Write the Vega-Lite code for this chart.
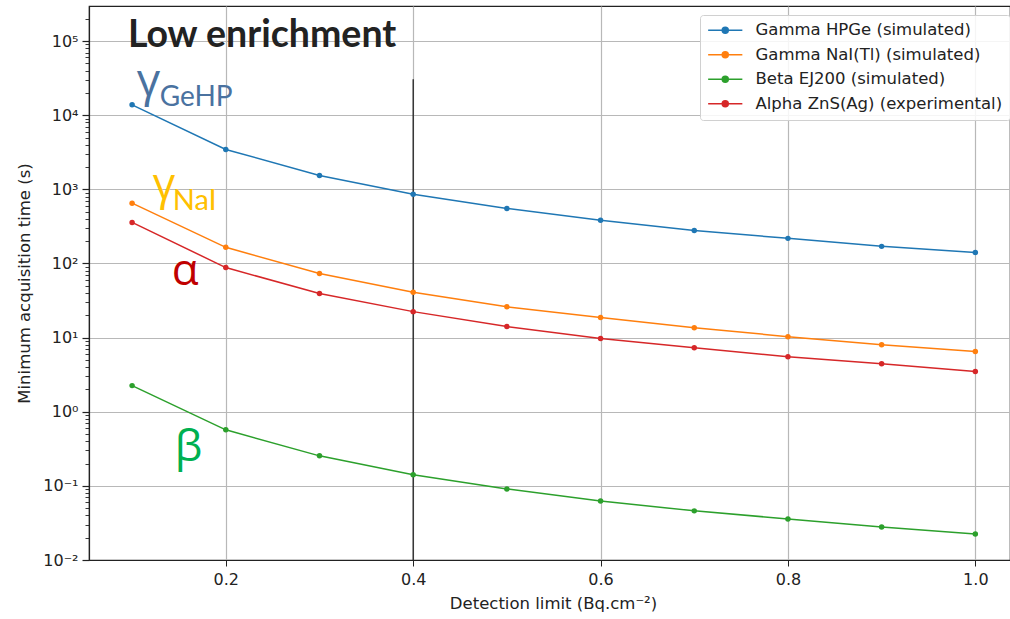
{
  "$schema": "https://vega.github.io/schema/vega-lite/v6.json",
  "width": 921,
  "height": 554,
  "autosize": "none",
  "padding": {"left": 89, "top": 6, "right": 0, "bottom": 59},
  "background": "white",
  "config": {
    "view": {"stroke": "#222", "strokeWidth": 1.2},
    "axis": {"labelFont": "DejaVu Sans", "titleFont": "DejaVu Sans", "labelColor": "#222", "titleColor": "#222", "labelFontSize": 16, "titleFontSize": 16.5, "titleFontWeight": "normal", "domainColor": "#222", "tickColor": "#222", "domainWidth": 1.2, "gridColor": "#b8b8b8", "gridWidth": 1.2}
  },
  "datasets": {
    "series": [
      {"x": 0.1, "y": 13800, "series": "Gamma HPGe (simulated)"},
      {"x": 0.2, "y": 3450, "series": "Gamma HPGe (simulated)"},
      {"x": 0.3, "y": 1540, "series": "Gamma HPGe (simulated)"},
      {"x": 0.4, "y": 860, "series": "Gamma HPGe (simulated)"},
      {"x": 0.5, "y": 553, "series": "Gamma HPGe (simulated)"},
      {"x": 0.6, "y": 382, "series": "Gamma HPGe (simulated)"},
      {"x": 0.7, "y": 279, "series": "Gamma HPGe (simulated)"},
      {"x": 0.8, "y": 218, "series": "Gamma HPGe (simulated)"},
      {"x": 0.9, "y": 170, "series": "Gamma HPGe (simulated)"},
      {"x": 1.0, "y": 141, "series": "Gamma HPGe (simulated)"},
      {"x": 0.1, "y": 650, "series": "Gamma NaI(Tl) (simulated)"},
      {"x": 0.2, "y": 165, "series": "Gamma NaI(Tl) (simulated)"},
      {"x": 0.3, "y": 73, "series": "Gamma NaI(Tl) (simulated)"},
      {"x": 0.4, "y": 41, "series": "Gamma NaI(Tl) (simulated)"},
      {"x": 0.5, "y": 26, "series": "Gamma NaI(Tl) (simulated)"},
      {"x": 0.6, "y": 18.6, "series": "Gamma NaI(Tl) (simulated)"},
      {"x": 0.7, "y": 13.6, "series": "Gamma NaI(Tl) (simulated)"},
      {"x": 0.8, "y": 10.3, "series": "Gamma NaI(Tl) (simulated)"},
      {"x": 0.9, "y": 8.0, "series": "Gamma NaI(Tl) (simulated)"},
      {"x": 1.0, "y": 6.5, "series": "Gamma NaI(Tl) (simulated)"},
      {"x": 0.1, "y": 2.25, "series": "Beta EJ200 (simulated)"},
      {"x": 0.2, "y": 0.57, "series": "Beta EJ200 (simulated)"},
      {"x": 0.3, "y": 0.254, "series": "Beta EJ200 (simulated)"},
      {"x": 0.4, "y": 0.141, "series": "Beta EJ200 (simulated)"},
      {"x": 0.5, "y": 0.091, "series": "Beta EJ200 (simulated)"},
      {"x": 0.6, "y": 0.0626, "series": "Beta EJ200 (simulated)"},
      {"x": 0.7, "y": 0.046, "series": "Beta EJ200 (simulated)"},
      {"x": 0.8, "y": 0.0358, "series": "Beta EJ200 (simulated)"},
      {"x": 0.9, "y": 0.0279, "series": "Beta EJ200 (simulated)"},
      {"x": 1.0, "y": 0.0224, "series": "Beta EJ200 (simulated)"},
      {"x": 0.1, "y": 358, "series": "Alpha ZnS(Ag) (experimental)"},
      {"x": 0.2, "y": 88, "series": "Alpha ZnS(Ag) (experimental)"},
      {"x": 0.3, "y": 39.4, "series": "Alpha ZnS(Ag) (experimental)"},
      {"x": 0.4, "y": 22.4, "series": "Alpha ZnS(Ag) (experimental)"},
      {"x": 0.5, "y": 14.1, "series": "Alpha ZnS(Ag) (experimental)"},
      {"x": 0.6, "y": 9.7, "series": "Alpha ZnS(Ag) (experimental)"},
      {"x": 0.7, "y": 7.3, "series": "Alpha ZnS(Ag) (experimental)"},
      {"x": 0.8, "y": 5.5, "series": "Alpha ZnS(Ag) (experimental)"},
      {"x": 0.9, "y": 4.45, "series": "Alpha ZnS(Ag) (experimental)"},
      {"x": 1.0, "y": 3.5, "series": "Alpha ZnS(Ag) (experimental)"}
    ],
    "marker": [{"x": 0.4, "y": 0.01, "y2": 30600}],
    "notes": [
      {"label": "title", "text": "Low enrichment", "x": 0.0955, "y": 83000},
      {"label": "g1", "text": "γ", "x": 0.105, "y": 18100},
      {"label": "g1sub", "text": "GeHP", "x": 0.1296, "y": 13200},
      {"label": "g2", "text": "γ", "x": 0.1221, "y": 733},
      {"label": "g2sub", "text": "NaI", "x": 0.1434, "y": 520},
      {"label": "alpha", "text": "α", "x": 0.1424, "y": 52},
      {"label": "beta", "text": "β", "x": 0.1456, "y": 0.218}
    ]
  },
  "layer": [
    {
      "data": {"name": "marker"},
      "mark": {"type": "rule", "color": "#111", "strokeWidth": 1.2},
      "encoding": {
        "x": {"field": "x", "type": "quantitative", "scale": {"domain": [0.054, 1.037], "nice": false, "zero": false},
          "axis": {"values": [0.2, 0.4, 0.6, 0.8, 1.0], "format": ".1f", "title": "Detection limit (Bq.cm⁻²)", "titleX": 464, "titlePadding": 8, "tickSize": 6, "labelPadding": 5, "grid": true}},
        "y": {"field": "y", "type": "quantitative", "scale": {"type": "log", "domain": [0.01, 297000], "nice": false},
          "axis": {
            "title": "Minimum acquisition time (s)",
            "titlePadding": 10,
            "values": [0.01, 0.02, 0.03, 0.04, 0.05, 0.06, 0.07, 0.08, 0.09, 0.1, 0.2, 0.3, 0.4, 0.5, 0.6, 0.7, 0.8, 0.9, 1, 2, 3, 4, 5, 6, 7, 8, 9, 10, 20, 30, 40, 50, 60, 70, 80, 90, 100, 200, 300, 400, 500, 600, 700, 800, 900, 1000, 2000, 3000, 4000, 5000, 6000, 7000, 8000, 9000, 10000, 20000, 30000, 40000, 50000, 60000, 70000, 80000, 90000, 100000, 200000],
            "labelExpr": "datum.value == 0.01 ? '10⁻²' : datum.value == 0.1 ? '10⁻¹' : datum.value == 1 ? '10⁰' : datum.value == 10 ? '10¹' : datum.value == 100 ? '10²' : datum.value == 1000 ? '10³' : datum.value == 10000 ? '10⁴' : datum.value == 100000 ? '10⁵' : ''",
            "grid": true,
            "gridOpacity": {"condition": {"test": "indexof([0.01,0.1,1,10,100,1000,10000,100000], datum.value) >= 0", "value": 1}, "value": 0},
            "tickSize": {"condition": {"test": "indexof([0.01,0.1,1,10,100,1000,10000,100000], datum.value) >= 0", "value": 7}, "value": 4},
            "tickWidth": {"condition": {"test": "indexof([0.01,0.1,1,10,100,1000,10000,100000], datum.value) >= 0", "value": 1.2}, "value": 0.9},
            "labelPadding": 4
          }},
        "y2": {"field": "y2"}
      }
    },
    {
      "data": {"name": "series"},
      "mark": {"type": "line", "strokeWidth": 1.5},
      "encoding": {
        "x": {"field": "x", "type": "quantitative"},
        "y": {"field": "y", "type": "quantitative"},
        "color": {"field": "series", "type": "nominal",
          "scale": {"domain": ["Gamma HPGe (simulated)", "Gamma NaI(Tl) (simulated)", "Beta EJ200 (simulated)", "Alpha ZnS(Ag) (experimental)"], "range": ["#1f77b4", "#ff7f0e", "#2ca02c", "#d62728"]},
          "legend": {
            "title": null, "orient": "none", "legendX": 611, "legendY": 9,
            "labelFont": "DejaVu Sans", "labelFontSize": 16.5, "labelColor": "#222", "labelLimit": 500,
            "symbolType": "M-5.7,0L5.7,0M-1,0A1,1 0 1,1 1,0A1,1 0 1,1 -1,0Z",
            "symbolSize": 36, "symbolStrokeWidth": 1.5, "symbolOffset": 10,
            "rowPadding": 7.5, "labelOffset": 22,
            "padding": 7, "strokeColor": "#d0d0d0", "fillColor": "rgba(255,255,255,0.85)", "cornerRadius": 3,
            "encode": {"symbols": {"update": {"stroke": {"scale": "color", "field": "value"}, "fill": {"scale": "color", "field": "value"}, "strokeWidth": {"value": 1.5}, "opacity": {"value": 1}}}}
          }}
      }
    },
    {
      "data": {"name": "series"},
      "mark": {"type": "point", "filled": true, "size": 30, "opacity": 1},
      "encoding": {
        "x": {"field": "x", "type": "quantitative"},
        "y": {"field": "y", "type": "quantitative"},
        "color": {"field": "series", "type": "nominal"}
      }
    },
    {
      "data": {"name": "notes"},
      "transform": [{"filter": "datum.label == 'title'"}],
      "mark": {"type": "text", "font": "Lato", "fontWeight": "bold", "fontSize": 37.5, "color": "#222", "align": "left", "baseline": "alphabetic"},
      "encoding": {"x": {"field": "x", "type": "quantitative"}, "y": {"field": "y", "type": "quantitative"}, "text": {"field": "text"}}
    },
    {
      "data": {"name": "notes"},
      "transform": [{"filter": "datum.label == 'g1'"}],
      "mark": {"type": "text", "font": "Open Sans", "fontSize": 46, "color": "#4a72a0", "align": "left", "baseline": "alphabetic"},
      "encoding": {"x": {"field": "x", "type": "quantitative"}, "y": {"field": "y", "type": "quantitative"}, "text": {"field": "text"}}
    },
    {
      "data": {"name": "notes"},
      "transform": [{"filter": "datum.label == 'g1sub'"}],
      "mark": {"type": "text", "font": "Lato", "fontSize": 28, "color": "#4a72a0", "align": "left", "baseline": "alphabetic"},
      "encoding": {"x": {"field": "x", "type": "quantitative"}, "y": {"field": "y", "type": "quantitative"}, "text": {"field": "text"}}
    },
    {
      "data": {"name": "notes"},
      "transform": [{"filter": "datum.label == 'g2'"}],
      "mark": {"type": "text", "font": "Open Sans", "fontSize": 44, "color": "#ffc000", "align": "left", "baseline": "alphabetic"},
      "encoding": {"x": {"field": "x", "type": "quantitative"}, "y": {"field": "y", "type": "quantitative"}, "text": {"field": "text"}}
    },
    {
      "data": {"name": "notes"},
      "transform": [{"filter": "datum.label == 'g2sub'"}],
      "mark": {"type": "text", "font": "Lato", "fontSize": 29, "color": "#ffc000", "align": "left", "baseline": "alphabetic"},
      "encoding": {"x": {"field": "x", "type": "quantitative"}, "y": {"field": "y", "type": "quantitative"}, "text": {"field": "text"}}
    },
    {
      "data": {"name": "notes"},
      "transform": [{"filter": "datum.label == 'alpha'"}],
      "mark": {"type": "text", "font": "Open Sans", "fontSize": 44, "color": "#c00000", "align": "left", "baseline": "alphabetic"},
      "encoding": {"x": {"field": "x", "type": "quantitative"}, "y": {"field": "y", "type": "quantitative"}, "text": {"field": "text"}}
    },
    {
      "data": {"name": "notes"},
      "transform": [{"filter": "datum.label == 'beta'"}],
      "mark": {"type": "text", "font": "Open Sans", "fontSize": 44, "color": "#00b050", "align": "left", "baseline": "alphabetic"},
      "encoding": {"x": {"field": "x", "type": "quantitative"}, "y": {"field": "y", "type": "quantitative"}, "text": {"field": "text"}}
    }
  ]
}
